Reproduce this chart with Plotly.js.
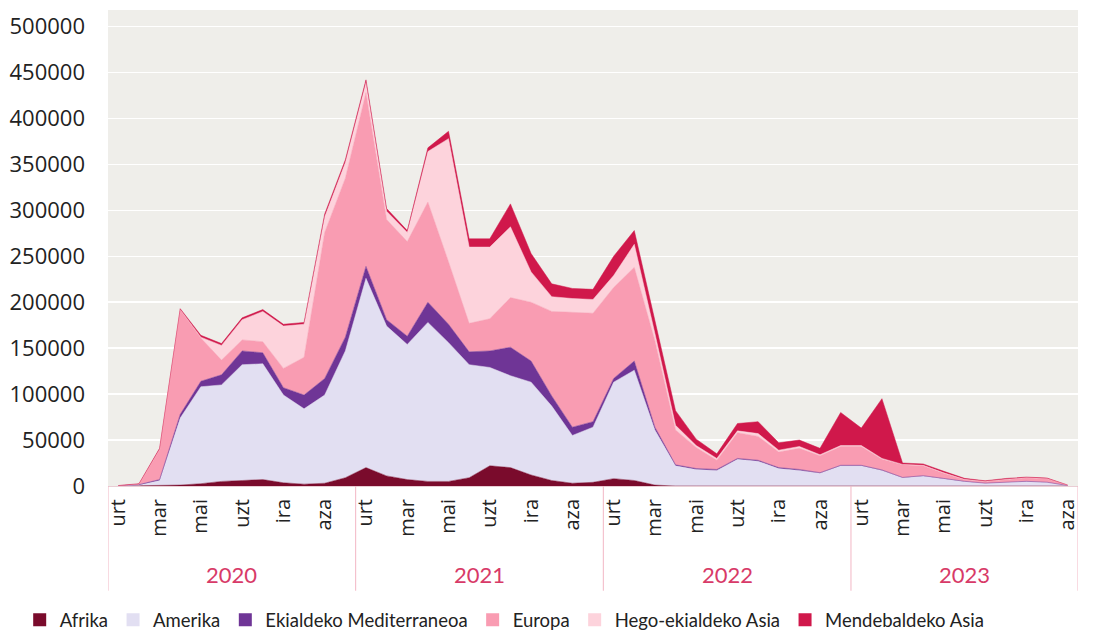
<!DOCTYPE html>
<html>
<head>
<meta charset="utf-8">
<script src="https://cdn.plot.ly/plotly-3.0.1.min.js"></script>
<style>
  html, body { margin: 0; padding: 0; background: #ffffff; }
  #grafikoa { width: 1094px; height: 633px; }
</style>
</head>
<body>
<div id="grafikoa"></div>
<script>
// Hilabeteak eta urteak
const hilabeteak = ['urt', 'ots', 'mar', 'api', 'mai', 'eka', 'uzt', 'abu', 'ira', 'urr', 'aza', 'abe'];
const urteak = ['2020', '2021', '2022', '2023'];
const hilKopurua = [12, 12, 12, 11]; // 2023: urtarrila - azaroa

// Eskualdeka (2020-01 .. 2023-11)
const afrika = [
    0, 200, 300, 1000, 2500, 5000, 6000, 7000, 3500, 2000, 3000, 9000,
    20000, 11000, 7000, 5000, 5000, 9000, 22000, 20000, 12000, 6000, 3000, 4000,
    8000, 6000, 1000, 0, 0, 0, 0, 0, 0, 0, 0, 0,
    0, 0, 0, 0, 0, 0, 0, 0, 0, 0, 0
];
const amerika = [
    200, 800, 5700, 73000, 105500, 105000, 126000, 126000, 95500, 82000, 96000, 138000,
    206000, 163000, 147000, 173000, 151000, 123000, 107000, 100000, 101000, 81000, 52000, 60000,
    105000, 120000, 60000, 22000, 18000, 17000, 29000, 27000, 19000, 17000, 14000, 22000,
    22000, 17000, 9000, 11000, 8000, 5000, 3000, 4000, 5000, 4000, 500
];
const ekialdekoMed = [
    100, 500, 1000, 4000, 6000, 11000, 15000, 12000, 8000, 15000, 18000, 15000,
    13000, 7000, 9000, 22000, 20000, 14000, 18000, 31000, 23000, 11000, 9000, 6000,
    4000, 10000, 3000, 1000, 1000, 1000, 1000, 1000, 1000, 1000, 500, 500,
    500, 500, 300, 200, 200, 100, 100, 100, 100, 100, 0
];
const europa = [
    100, 500, 33000, 114000, 47000, 16000, 12000, 12000, 21000, 41000, 159000, 173000,
    189000, 109000, 103000, 109000, 68000, 31000, 35000, 54000, 64000, 92000, 125000, 118000,
    99000, 102000, 94000, 38000, 23000, 10000, 28000, 26000, 17000, 23000, 18500, 20500,
    20500, 11500, 13700, 10800, 5800, 2000, 2000, 3000, 4000, 4000, 500
];
const hegoEkialdekoAsia = [
    0, 0, 0, 0, 1000, 16000, 22000, 33000, 46000, 36000, 17000, 17000,
    11000, 9000, 10000, 55000, 134000, 83000, 78000, 77000, 33000, 16000, 15000, 15000,
    13000, 25000, 8000, 5000, 2000, 2000, 2000, 3000, 2000, 2000, 1000, 1000,
    1000, 1000, 500, 500, 300, 200, 100, 100, 100, 100, 0
];
const mendebaldekoAsia = [
    100, 500, 1000, 1000, 2000, 2000, 2000, 2000, 2000, 2000, 3000, 3000,
    3000, 3000, 2000, 4000, 8000, 9000, 9000, 25000, 20000, 14000, 11000, 11000,
    21000, 15000, 14000, 16000, 7000, 5000, 8000, 13000, 8000, 7000, 7000, 36000,
    19000, 65000, 1500, 1500, 1700, 1000, 500, 1000, 500, 500, 0
];

const serieak = [
    { izena: 'Afrika', balioak: afrika, kolorea: '#7a0b2c' },
    { izena: 'Amerika', balioak: amerika, kolorea: '#e2dff2' },
    { izena: 'Ekialdeko Mediterraneoa', balioak: ekialdekoMed, kolorea: '#6f3596' },
    { izena: 'Europa', balioak: europa, kolorea: '#f99cb2' },
    { izena: 'Hego-ekialdeko Asia', balioak: hegoEkialdekoAsia, kolorea: '#fdd3dc' },
    { izena: 'Mendebaldeko Asia', balioak: mendebaldekoAsia, kolorea: '#d0184b' }
];

const x = afrika.map((_, i) => i);

const data = [];
// Azalera metatuak (legendarik gabe)
serieak.forEach(s => {
    data.push({
        x: x,
        y: s.balioak,
        type: 'scatter',
        mode: 'lines',
        stackgroup: 'bat',
        name: s.izena,
        line: { color: s.kolorea, width: 0.5 },
        fillcolor: s.kolorea,
        showlegend: false
    });
});
// Legendako karratuak
serieak.forEach(s => {
    data.push({
        x: [null],
        y: [null],
        type: 'scatter',
        mode: 'markers',
        name: s.izena,
        marker: { symbol: 'square', size: 13, color: s.kolorea },
        showlegend: true
    });
});

// Ardatzeko etiketak: bi hilabetean behin
const tickvals = [];
const ticktext = [];
for (let i = 0; i < x.length; i += 2) {
    tickvals.push(i);
    ticktext.push(hilabeteak[i % 12]);
}

// Urteen banaketa-lerroak eta izenak
const shapes = [];
const annotations = [];
let hasiera = -0.5;
urteak.forEach((urtea, k) => {
    const amaiera = hasiera + hilKopurua[k];
    shapes.push({
        type: 'line', xref: 'x', yref: 'paper',
        x0: hasiera, x1: hasiera, y0: 0, y1: -0.22,
        line: { color: '#f2b6c4', width: 1 }
    });
    annotations.push({
        text: urtea, xref: 'x', yref: 'paper',
        x: (hasiera + amaiera) / 2, y: -0.186,
        showarrow: false, yanchor: 'middle',
        font: { family: 'Lato', size: 22, color: '#d83a68' }
    });
    hasiera = amaiera;
});
shapes.push({
    type: 'line', xref: 'x', yref: 'paper',
    x0: hasiera, x1: hasiera, y0: 0, y1: -0.22,
    line: { color: '#f2b6c4', width: 1 }
});

const layout = {
    width: 1094,
    height: 633,
    margin: { l: 108, r: 16, t: 10, b: 147 },
    paper_bgcolor: '#ffffff',
    plot_bgcolor: '#efeeea',
    showlegend: true,
    legend: {
        orientation: 'h',
        xref: 'container', yref: 'container',
        x: 0.018, y: 0.02,
        xanchor: 'left', yanchor: 'middle',
        font: { family: 'Lato', size: 18.5, color: '#222222' },
        itemwidth: 30,
        traceorder: 'normal'
    },
    xaxis: {
        range: [-0.5, x.length - 0.5],
        tickvals: tickvals,
        ticktext: ticktext,
        tickangle: -90,
        tickfont: { family: 'Open Sans', size: 20, color: '#222222' },
        showgrid: false,
        zeroline: false,
        showline: true,
        linecolor: '#e9cdd4',
        linewidth: 1,
        ticks: '',
        ticklabelstandoff: 4
    },
    yaxis: {
        range: [0, 518000],
        dtick: 50000,
        tickformat: 'd',
        tickfont: { family: 'Open Sans', size: 22, color: '#222222' },
        gridcolor: '#ffffff',
        gridwidth: 1.5,
        zeroline: false,
        showline: false,
        ticklabelstandoff: 22
    },
    shapes: shapes,
    annotations: annotations
};

Plotly.newPlot('grafikoa', data, layout, { displayModeBar: false, staticPlot: true });
</script>
</body>
</html>
